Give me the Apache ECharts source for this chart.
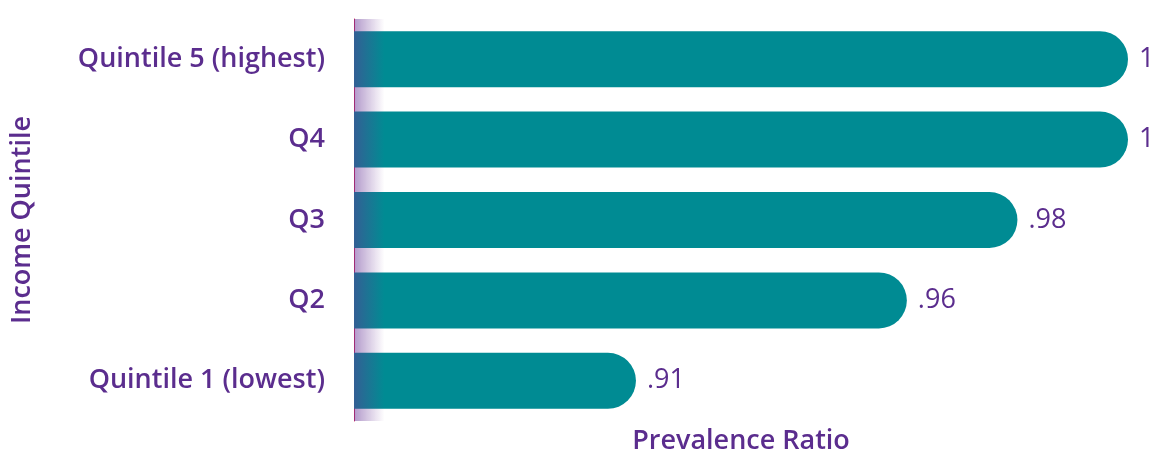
<!DOCTYPE html>
<html><head><meta charset="utf-8">
<script src="https://cdn.jsdelivr.net/npm/echarts@6/dist/echarts.min.js"></script>
<style>html,body{margin:0;padding:0;background:#fff}#c{width:1152px;height:455px}</style>
</head><body><div id="c"></div>
<script>
const categories = ['Quintile 5 (highest)', 'Q4', 'Q3', 'Q2', 'Quintile 1 (lowest)'];
const values = [1, 1, 0.98, 0.96, 0.911];
const axisMin = 0.86, axisMax = 1.0;

const purple = '#5B2D8E';
const teal = '#008B93';
const font = '"Open Sans", sans-serif';

function fmt(v){ return v >= 1 ? '1' : v.toFixed(2).replace(/^0/, ''); }

const chart = echarts.init(document.getElementById('c'), null, {renderer:'canvas'});
chart.setOption({
  animation: false,
  grid: { left: 354, right: 24, top: 19, bottom: 34, containLabel: false, outerBoundsMode: 'none' },
  xAxis: {
    type: 'value', min: axisMin, max: axisMax,
    name: 'Prevalence Ratio', nameLocation: 'middle', nameGap: 7,
    nameTextStyle: { color: purple, fontSize: 27, fontFamily: font, fontWeight: 600, verticalAlign: 'top' },
    axisLine: { show: false }, axisTick: { show: false }, axisLabel: { show: false }, splitLine: { show: false }
  },
  yAxis: {
    type: 'category', data: categories, inverse: true,
    name: 'Income Quintile', nameLocation: 'middle', nameGap: 318, nameRotate: 90,
    nameTextStyle: { color: purple, fontSize: 27, fontFamily: font, fontWeight: 600 },
    axisLine: { show: true, lineStyle: { color: '#DC2456', width: 1 } },
    axisTick: { show: false },
    axisLabel: { color: purple, fontSize: 27, fontFamily: font, fontWeight: 600, margin: 29 }
  },
  series: [{
    type: 'bar', data: values, barWidth: 56,
    itemStyle: { color: teal, borderRadius: [0, 28, 28, 0] },
    label: { show: true, position: 'right', distance: 11, color: purple, fontSize: 27, fontFamily: font, fontWeight: 400,
      formatter: p => fmt(p.value) },
    markArea: {
      silent: true, z: 10,
      itemStyle: { color: { type: 'linear', x: 0, y: 0, x2: 1, y2: 0, colorStops: [
        { offset: 0, color: 'rgba(100,50,150,0.5)' }, { offset: 1, color: 'rgba(110,60,150,0)' } ] } },
      data: [[{ xAxis: axisMin }, { xAxis: axisMin + 0.0055 }]]
    }
  }]
});
</script></body></html>
